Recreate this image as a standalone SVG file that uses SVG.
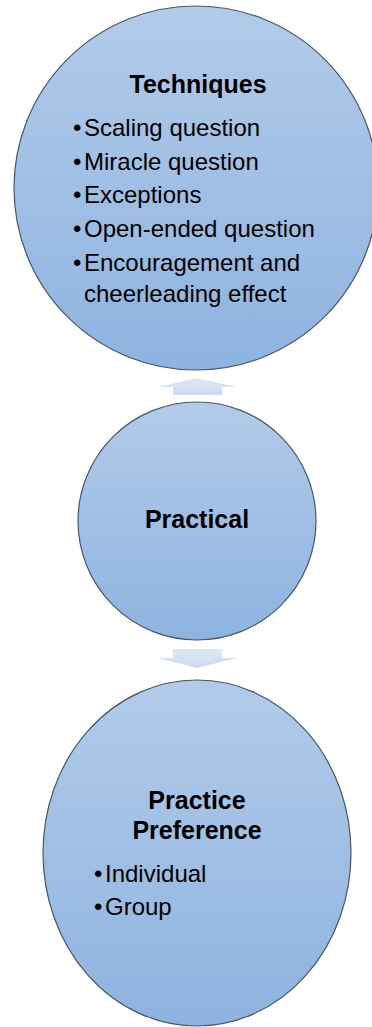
<svg xmlns="http://www.w3.org/2000/svg" width="372" height="1027" viewBox="0 0 372 1027">
<defs>
<linearGradient id="fill" x1="0" y1="0" x2="0" y2="1">
<stop offset="0" stop-color="#b2cbe9"/>
<stop offset="1" stop-color="#8eb3e0"/>
</linearGradient>
<linearGradient id="arr" x1="0" y1="0" x2="0" y2="1">
<stop offset="0" stop-color="#dfe8f5"/>
<stop offset="1" stop-color="#cbd9ef"/>
</linearGradient>
<style>
.node{fill:url(#fill);stroke:#4a5666;stroke-width:1.2}
.arrow{fill:url(#arr);stroke:none}
.t{font-family:"Liberation Sans",Arial,sans-serif;fill:#000}
.title{font-size:25px;font-weight:bold;text-anchor:middle}
.item{font-size:24px}
</style>
</defs>
<rect width="372" height="1027" fill="#ffffff"/>
<g id="connectors">
<polygon class="arrow" points="197,378 237,387 222,387 222,395 173,395 173,387 158,387"/>
<polygon class="arrow" points="173,649 222,649 222,658 237,658 197,668 158,658 173,658"/>
</g>
<g id="techniques">
<ellipse class="node" cx="196" cy="188" rx="182" ry="182"/>
<text class="t title" x="198" y="93">Techniques</text>
<text class="t item" x="73" y="136">•<tspan x="84">Scaling question</tspan></text>
<text class="t item" x="73" y="170">•<tspan x="84">Miracle question</tspan></text>
<text class="t item" x="73" y="203">•<tspan x="84">Exceptions</tspan></text>
<text class="t item" x="73" y="237">•<tspan x="84">Open-ended question</tspan></text>
<text class="t item" x="73" y="271">•<tspan x="84">Encouragement and</tspan></text>
<text class="t item" x="84" y="302">cheerleading effect</text>
</g>
<g id="practical">
<ellipse class="node" cx="197" cy="521" rx="119" ry="119"/>
<text class="t title" x="197" y="528">Practical</text>
</g>
<g id="practice-preference">
<ellipse class="node" cx="197" cy="853" rx="154" ry="173"/>
<text class="t title" x="197" y="809">Practice</text>
<text class="t title" x="197" y="839">Preference</text>
<text class="t item" x="94" y="882">•<tspan x="105">Individual</tspan></text>
<text class="t item" x="94" y="915">•<tspan x="105">Group</tspan></text>
</g>
</svg>
